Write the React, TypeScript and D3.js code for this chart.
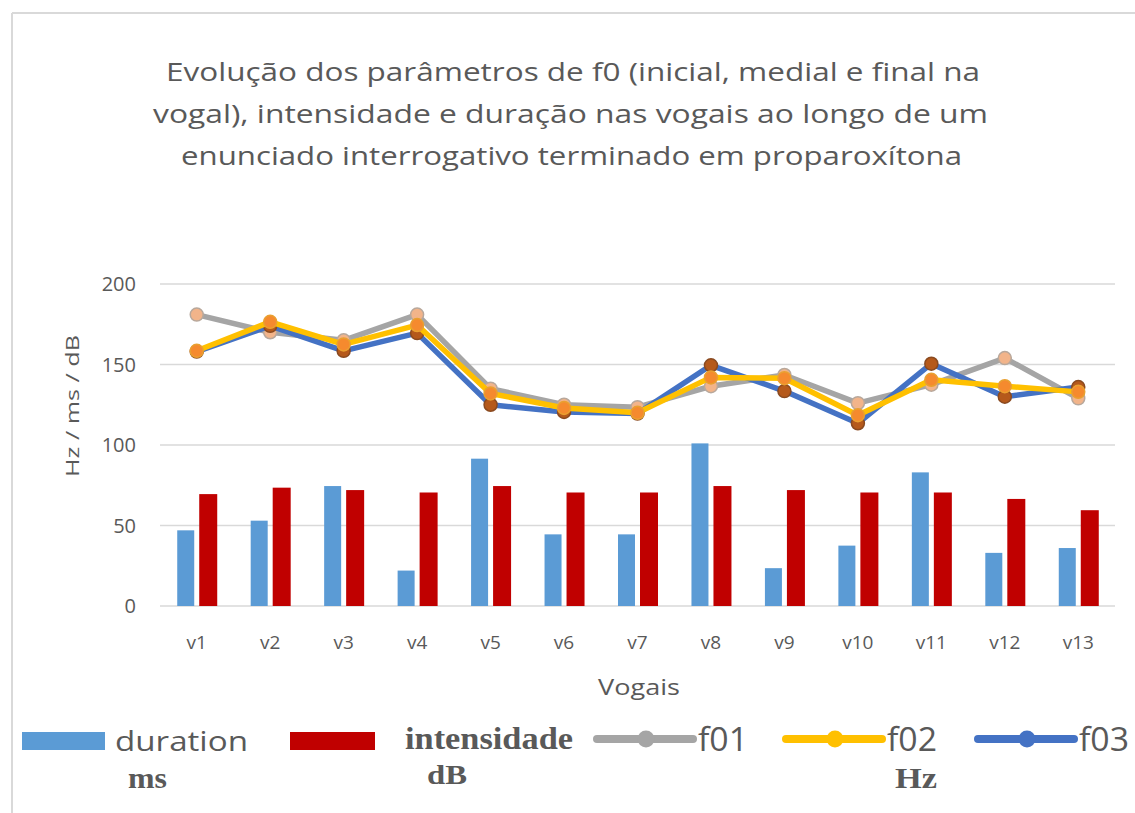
import React from "react";
import * as d3 from "d3";

const categories = ["v1","v2","v3","v4","v5","v6","v7","v8","v9","v10","v11","v12","v13"];
const duration = [47, 53, 74.5, 22, 91.5, 44.5, 44.5, 101, 23.5, 37.5, 83, 33, 36];
const intensidade = [69.5, 73.5, 72, 70.5, 74.5, 70.5, 70.5, 74.5, 72, 70.5, 70.5, 66.5, 59.5];
const f01 = [181, 170, 165, 181, 135, 125, 123.5, 136.5, 143.5, 126, 137.5, 154, 129];
const f02 = [158.5, 176.5, 162.5, 174.5, 132, 123, 120, 142, 141.5, 118.5, 140.5, 136.5, 133];
const f03 = [158, 174, 158.5, 169.5, 125, 120.5, 119.5, 149.5, 133.5, 113.5, 150.5, 130, 136];
const yTicks = [0, 50, 100, 150, 200];
const titleLines = [
  "Evolução dos parâmetros de f0 (inicial, medial e final na",
  "vogal), intensidade e duração nas  vogais ao longo de um",
  "enunciado interrogativo terminado em proparoxítona",
];
const titleWidths = [814, 835, 781];
const titleStarts = [166, 153, 181];

const W = 1135, H = 813;
const left = 160, right = 1115, top = 284, bottom = 606;
const sans = "'Open Sans', 'Noto Sans', sans-serif";
const serif = "'Liberation Serif', 'DejaVu Serif', serif";
const textGray = "#595959";

export default function App() {
  const x = d3.scaleBand<string>().domain(categories).range([left, right]);
  const y = d3.scaleLinear().domain([0, 200]).range([bottom, top]);
  const bw = 17;
  const gap = 5;
  const cx = (c: string) => (x(c) as number) + x.bandwidth() / 2;
  const line = d3.line<number>().x((_, i) => cx(categories[i])).y((v) => y(v));

  const series = [
    { name: "f01", data: f01, color: "#a5a5a5", marker: "#f2b48a", stroke: "#b8a89c" },
    { name: "f03", data: f03, color: "#4472c4", marker: "#b5591b", stroke: "#8a4a20" },
    { name: "f02", data: f02, color: "#ffc000", marker: "#f58a2e", stroke: "#e9a030" },
  ];

  return (
    <svg width={W} height={H} style={{ position: "absolute", left: 0, top: 0, background: "#fff" }}>
      <rect x={0} y={0} width={W} height={H} fill="#fff" />
      <line x1={12} y1={13} x2={1135} y2={13} stroke="#d9d9d9" strokeWidth={2} />
      <line x1={12} y1={13} x2={12} y2={813} stroke="#d9d9d9" strokeWidth={2} />
      {titleLines.map((t, i) => (
        <text key={i} x={titleStarts[i]} y={81 + i * 42} fontFamily={sans} fontSize={26} fill={textGray}
          textLength={titleWidths[i]} lengthAdjust="spacingAndGlyphs">
          {t}
        </text>
      ))}
      {yTicks.map((t) => (
        <g key={t}>
          <line x1={left} x2={right} y1={y(t)} y2={y(t)} stroke="#d9d9d9" strokeWidth={1.5} />
          <text x={136} y={y(t)} dy="0.35em" textAnchor="end" fontFamily={sans} fontSize={20} fill={textGray}>
            {t}
          </text>
        </g>
      ))}
      <text transform={`translate(79,406) rotate(-90)`} textAnchor="middle" fontFamily={sans} fontSize={18} fill={textGray}
        textLength={142} lengthAdjust="spacingAndGlyphs">
        Hz / ms / dB
      </text>
      {categories.map((c, i) => (
        <g key={c}>
          <rect x={cx(c) - gap / 2 - bw} y={y(duration[i])} width={bw} height={y(0) - y(duration[i])} fill="#5b9bd5" />
          <rect x={cx(c) + gap / 2} y={y(intensidade[i])} width={bw + 1} height={y(0) - y(intensidade[i])} fill="#c00000" />
          <text x={cx(c)} y={642} dy="0.35em" textAnchor="middle" fontFamily={sans} fontSize={19} fill={textGray}>
            {c}
          </text>
        </g>
      ))}
      <text x={639} y={688} dy="0.35em" textAnchor="middle" fontFamily={sans} fontSize={21} fill={textGray}
        textLength={82} lengthAdjust="spacingAndGlyphs">
        Vogais
      </text>
      {series.map((s) => (
        <g key={s.name}>
          <path d={line(s.data) as string} fill="none" stroke={s.color} strokeWidth={5.5} strokeLinejoin="round" />
          {s.data.map((v, i) => (
            <circle key={i} cx={cx(categories[i])} cy={y(v)} r={6.5} fill={s.marker} stroke={s.stroke} strokeWidth={1.5} />
          ))}
        </g>
      ))}
      {/* Legend */}
      <rect x={22} y={732} width={83} height={18} fill="#5b9bd5" />
      <text x={115} y={751} fontFamily={sans} fontSize={28} fill={textGray} textLength={133} lengthAdjust="spacingAndGlyphs">duration</text>
      <text x={128} y={788} fontFamily={serif} fontWeight="bold" fontSize={29} fill={textGray} textLength={39} lengthAdjust="spacingAndGlyphs">ms</text>
      <rect x={290} y={732} width={85} height={18} fill="#c00000" />
      <text x={405} y={749} fontFamily={serif} fontWeight="bold" fontSize={31} fill={textGray} textLength={168} lengthAdjust="spacingAndGlyphs">intensidade</text>
      <text x={427} y={784} fontFamily={serif} fontWeight="bold" fontSize={27} fill={textGray} textLength={40} lengthAdjust="spacingAndGlyphs">dB</text>
      {[
        { name: "f01", color: "#a5a5a5", x0: 597 },
        { name: "f02", color: "#ffc000", x0: 786 },
        { name: "f03", color: "#4472c4", x0: 978 },
      ].map((l) => (
        <g key={l.name}>
          <line x1={l.x0} x2={l.x0 + 96} y1={739} y2={739} stroke={l.color} strokeWidth={8} strokeLinecap="round" />
          <circle cx={l.x0 + 49} cy={739} r={8.5} fill={l.color} />
          <text x={l.x0 + 101} y={751} fontFamily={sans} fontSize={32} fill={textGray} textLength={50} lengthAdjust="spacingAndGlyphs">{l.name}</text>
        </g>
      ))}
      <text x={895} y={788} fontFamily={serif} fontWeight="bold" fontSize={30} fill={textGray} textLength={42} lengthAdjust="spacingAndGlyphs">Hz</text>
    </svg>
  );
}
